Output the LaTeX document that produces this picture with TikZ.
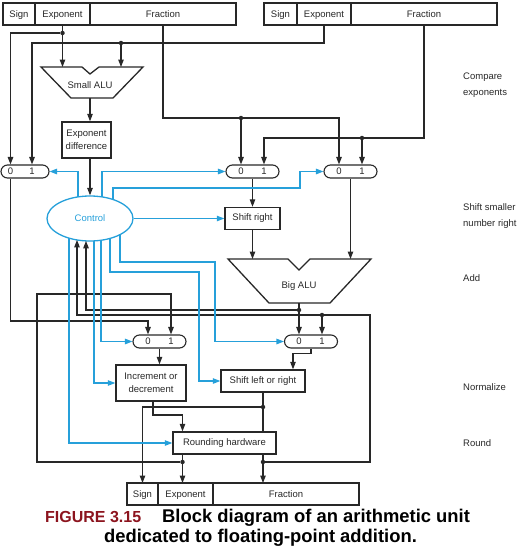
\documentclass[tikz,border=0pt]{standalone}
\usepackage{fontspec}
\setmainfont{Liberation Sans}
\usepackage{tikz}
\newcommand{\muxwidth}{53pt}
\newcommand{\muxheight}{13pt}
\newcommand{\fieldheight}{22pt}
\definecolor{ctlBlue}{RGB}{38,160,218}
\definecolor{wireGray}{RGB}{40,40,40}
\definecolor{capRed}{RGB}{140,20,30}
\usetikzlibrary{arrows.meta,calc,positioning,shapes.geometric}
\tikzset{
  >={Triangle[length=7.5pt,width=5.5pt]},
  font=\fontsize{9.5}{16}\selectfont,
  field/.style={draw=wireGray,line width=1.3pt,shape=rectangle,minimum height=\fieldheight,inner sep=0,outer sep=0,text=wireGray,text height=1.5ex,text depth=0.25ex},
  box/.style={draw=wireGray,line width=1.4pt,shape=rectangle,inner sep=1mm,align=center,text=wireGray,font=\fontsize{9.5}{12.5}\selectfont},
  mux/.style={draw=wireGray,line width=1.1pt,shape=rectangle,rounded corners=6.5pt,minimum width=\muxwidth,minimum height=\muxheight,inner sep=0},
  muxin/.style={inner sep=0,text=wireGray},
  alu/.style={draw=wireGray,line width=1.3pt,line join=miter},
  wire/.style={draw=wireGray,line width=1.1pt},
  ctl/.style={draw=ctlBlue,line width=1.1pt,->},
  dot/.style={fill=wireGray,shape=circle,minimum size=4.5pt,inner sep=0},
  stage/.style={anchor=west,align=left,inner sep=0,text=wireGray},
  caption/.style={inner sep=0,font=\fontsize{18.4}{22}\selectfont\bfseries},
}
\begin{document}
\begin{tikzpicture}[x=1pt,y=-1pt]
  \useasboundingbox (0,0) rectangle (522,547);

  % registers
  \node[field,minimum width=32pt,anchor=west] (aS) at (3,14) {Sign};
  \node[field,minimum width=55pt,right=0pt of aS] (aE) {Exponent};
  \node[field,minimum width=146pt,right=0pt of aE] (aF) {Fraction};
  \node[field,minimum width=33pt,anchor=west] (bS) at (264,14) {Sign};
  \node[field,minimum width=54pt,right=0pt of bS] (bE) {Exponent};
  \node[field,minimum width=146pt,right=0pt of bE] (bF) {Fraction};
  \node[field,minimum width=31pt,anchor=west] (cS) at (127,494) {Sign};
  \node[field,minimum width=55pt,right=0pt of cS] (cE) {Exponent};
  \node[field,minimum width=146pt,right=0pt of cE] (cF) {Fraction};

  % ALUs
  \draw[alu] (41,67) -- (82,67) -- (90,74) -- (99,67) -- (143,67) -- (113,98) -- (71,98) -- cycle;
  \node[text=wireGray] (salu) at (90,85) {Small ALU};
  \coordinate (salu-a) at (62.5,67);
  \coordinate (salu-b) at (121,67);
  \coordinate (salu-o) at (90,98);
  \draw[alu] (228,259) -- (288,259) -- (299,270) -- (310,259) -- (371,259) -- (330,303) -- (269,303) -- cycle;
  \node[text=wireGray] (balu) at (299,286) {Big ALU};
  \coordinate (balu-a) at (252.5,259);
  \coordinate (balu-b) at (350.5,259);
  \coordinate (balu-o) at (299,303);

  % boxes
  \node[box,minimum width=49pt,minimum height=36pt] (ediff) at (86.5,140) {Exponent\\difference};
  \node[box,minimum width=55pt,minimum height=22pt] (ShR) at (252.5,218.5) {Shift right};
  \node[box,minimum width=70pt,minimum height=36pt] (inc) at (151,383) {Increment or\\decrement};
  \node[box,minimum width=84pt,minimum height=22pt] (shLR) at (263,381) {Shift left or right};
  \node[box,minimum width=103pt,minimum height=22pt] (rnd) at (224.5,443) {Rounding hardware};
  \node[draw=ctlBlue,line width=1.3pt,shape=ellipse,minimum width=86pt,minimum height=45pt,inner sep=0,text=ctlBlue] (ctrl) at (90,218.5) {Control};

  % multiplexors
  \node[mux,minimum width=48pt] (m1) at (25,171.5) {};
  \node[muxin] (m1-0) at (10.5,171.5) {0};
  \node[muxin] (m1-1) at (32,171.5) {1};
  \node[mux] (m2) at (252.5,171.5) {};
  \node[muxin] (m2-0) at (241,171.5) {0};
  \node[muxin] (m2-1) at (264,171.5) {1};
  \node[mux] (m3) at (350.5,171.5) {};
  \node[muxin] (m3-0) at (339,171.5) {0};
  \node[muxin] (m3-1) at (362,171.5) {1};
  \node[mux] (m4) at (159.5,341.5) {};
  \node[muxin] (m4-0) at (148,341.5) {0};
  \node[muxin] (m4-1) at (171,341.5) {1};
  \node[mux] (m5) at (311,341.5) {};
  \node[muxin] (m5-0) at (299,341.5) {0};
  \node[muxin] (m5-1) at (322,341.5) {1};

  % junctions
  \node[dot] (jA) at (62.5,33) {};
  \node[dot] (jB) at (121,43) {};
  \node[dot] (jC) at (241,118) {};
  \node[dot] (jD) at (362,138) {};
  \node[dot] (jE) at (299,310) {};
  \node[dot] (jI) at (322,315) {};
  \node[dot] (jH) at (263,407) {};
  \node[dot] (jF) at (182.5,462) {};
  \node[dot] (jG) at (263,462) {};

  % points on the control ellipse
  \path (ctrl) ++({-acos(-12/43)}:43 and 22.5) coordinate (ct-m1);
  \path (ctrl) ++({-acos(12/43)}:43 and 22.5) coordinate (ct-m2);
  \path (ctrl) ++({-acos(23/43)}:43 and 22.5) coordinate (ct-m3);
  \path (ctrl) ++({acos(-21/43)}:43 and 22.5) coordinate (ct-rn);
  \path (ctrl) ++({acos(-13/43)}:43 and 22.5) coordinate (ct-fb);
  \path (ctrl) ++({acos(-4/43)}:43 and 22.5) coordinate (ct-fa);
  \path (ctrl) ++({acos(4/43)}:43 and 22.5) coordinate (ct-in);
  \path (ctrl) ++({acos(11/43)}:43 and 22.5) coordinate (ct-m4);
  \path (ctrl) ++({acos(20/43)}:43 and 22.5) coordinate (ct-sh);
  \path (ctrl) ++({acos(30/43)}:43 and 22.5) coordinate (ct-m5);

  % compare exponents
  \draw[wire] (aE.south) -- (jA);
  \draw[wire,->] (jA) -- (salu-a);
  \draw[wire,->] (jA) -| (m1-0 |- m1.north);
  \draw[wire] (bE.south) |- (jB);
  \draw[wire,->] (jB) -- (salu-b);
  \draw[wire,->] (jB) -| (m1-1 |- m1.north);
  \draw[wire,->] (salu-o) -- (salu-o |- ediff.north);
  \draw[wire,->] (ediff.south -| ctrl.north) -- (ctrl.north);

  % fractions, shift, add
  \draw[wire] (aF.south) |- (jC);
  \draw[wire,->] (jC) -- (m2-0 |- m2.north);
  \draw[wire,->] (jC) -| (m3-0 |- m3.north);
  \draw[wire] (bF.south) |- (jD);
  \draw[wire,->] (jD) -- (m3-1 |- m3.north);
  \draw[wire,->] (jD) -| (m2-1 |- m2.north);
  \draw[wire,->] (m2.south) -- (ShR.north);
  \draw[wire,->] (ShR.south) -- (balu-a);
  \draw[wire,->] (m3.south) -- (balu-b);
  \draw[wire] (balu-o) -- (jE);
  \draw[wire,->] (jE) -- (m5-0 |- m5.north);
  \draw[wire,->] (jE) -| (ct-fa);

  % normalize and round
  \draw[wire,->] (m1-0 |- m1.south) |- (m4-0 |- 0,321) -- (m4-0 |- m4.north);
  \draw[wire,->] (m4.south) -- (m4.south |- inc.north);
  \draw[wire,->] ([xshift=2pt]inc.south) |- (jF |- 0,415) -- (jF |- rnd.north);
  \draw[wire,->] (m5.south) -- ++(0,5) -| (shLR.north -| 293,0);
  \draw[wire] (shLR.south) -- (jH);
  \draw[wire] (jH) -- (jH |- rnd.north);
  \draw[wire,->] (jH) -| (cS.north);
  \draw[wire] (rnd.south -| jF) -- (jF);
  \draw[wire,->] (jF) -- (jF |- cE.north);
  \draw[wire] (rnd.south -| jG) -- (jG);
  \draw[wire,->] (jG) -- (jG |- cF.north);
  \draw[wire,->] (jF) -| (37,294) -| (m4-1 |- m4.north);
  \draw[wire,->] (jG) -| (370,315) -| (ct-fb);
  \draw[wire,->] (jI) -- (m5-1 |- m5.north);

  % control lines
  \draw[ctl] (ct-m1) |- (m1.east);
  \draw[ctl] (ct-m2) |- (m2.west);
  \draw[ctl] (ct-m3) |- (300,188) |- (m3.west);
  \draw[ctl] (ctrl.east) -- (ctrl.east -| ShR.west);
  \draw[ctl] (ct-m5) |- (215,262) |- (m5.west);
  \draw[ctl] (ct-sh) |- (199,272) |- (shLR.west);
  \draw[ctl] (ct-m4) |- (m4.west);
  \draw[ctl] (ct-in) |- (inc.west);
  \draw[ctl] (ct-rn) |- (rnd.west);

  % stages
  \node[stage] (lcmp) at (463,85) {Compare\\exponents};
  \node[stage] (lshift) at (463,216) {Shift smaller\\number right};
  \node[stage] (ladd) at (463,278) {Add};
  \node[stage] (lnorm) at (463,387) {Normalize};
  \node[stage] (lround) at (463,443) {Round};

  % caption
  \node[caption,anchor=base west,font=\fontsize{16}{20}\selectfont\bfseries,text=capRed] (figno) at (45,522) {FIGURE 3.15};
  \node[caption,anchor=base west] (captop) at (162,522) {Block diagram of an arithmetic unit};
  \node[caption,anchor=base] (capbot) at (260.5,542) {dedicated to floating-point addition.};
\end{tikzpicture}
\end{document}
